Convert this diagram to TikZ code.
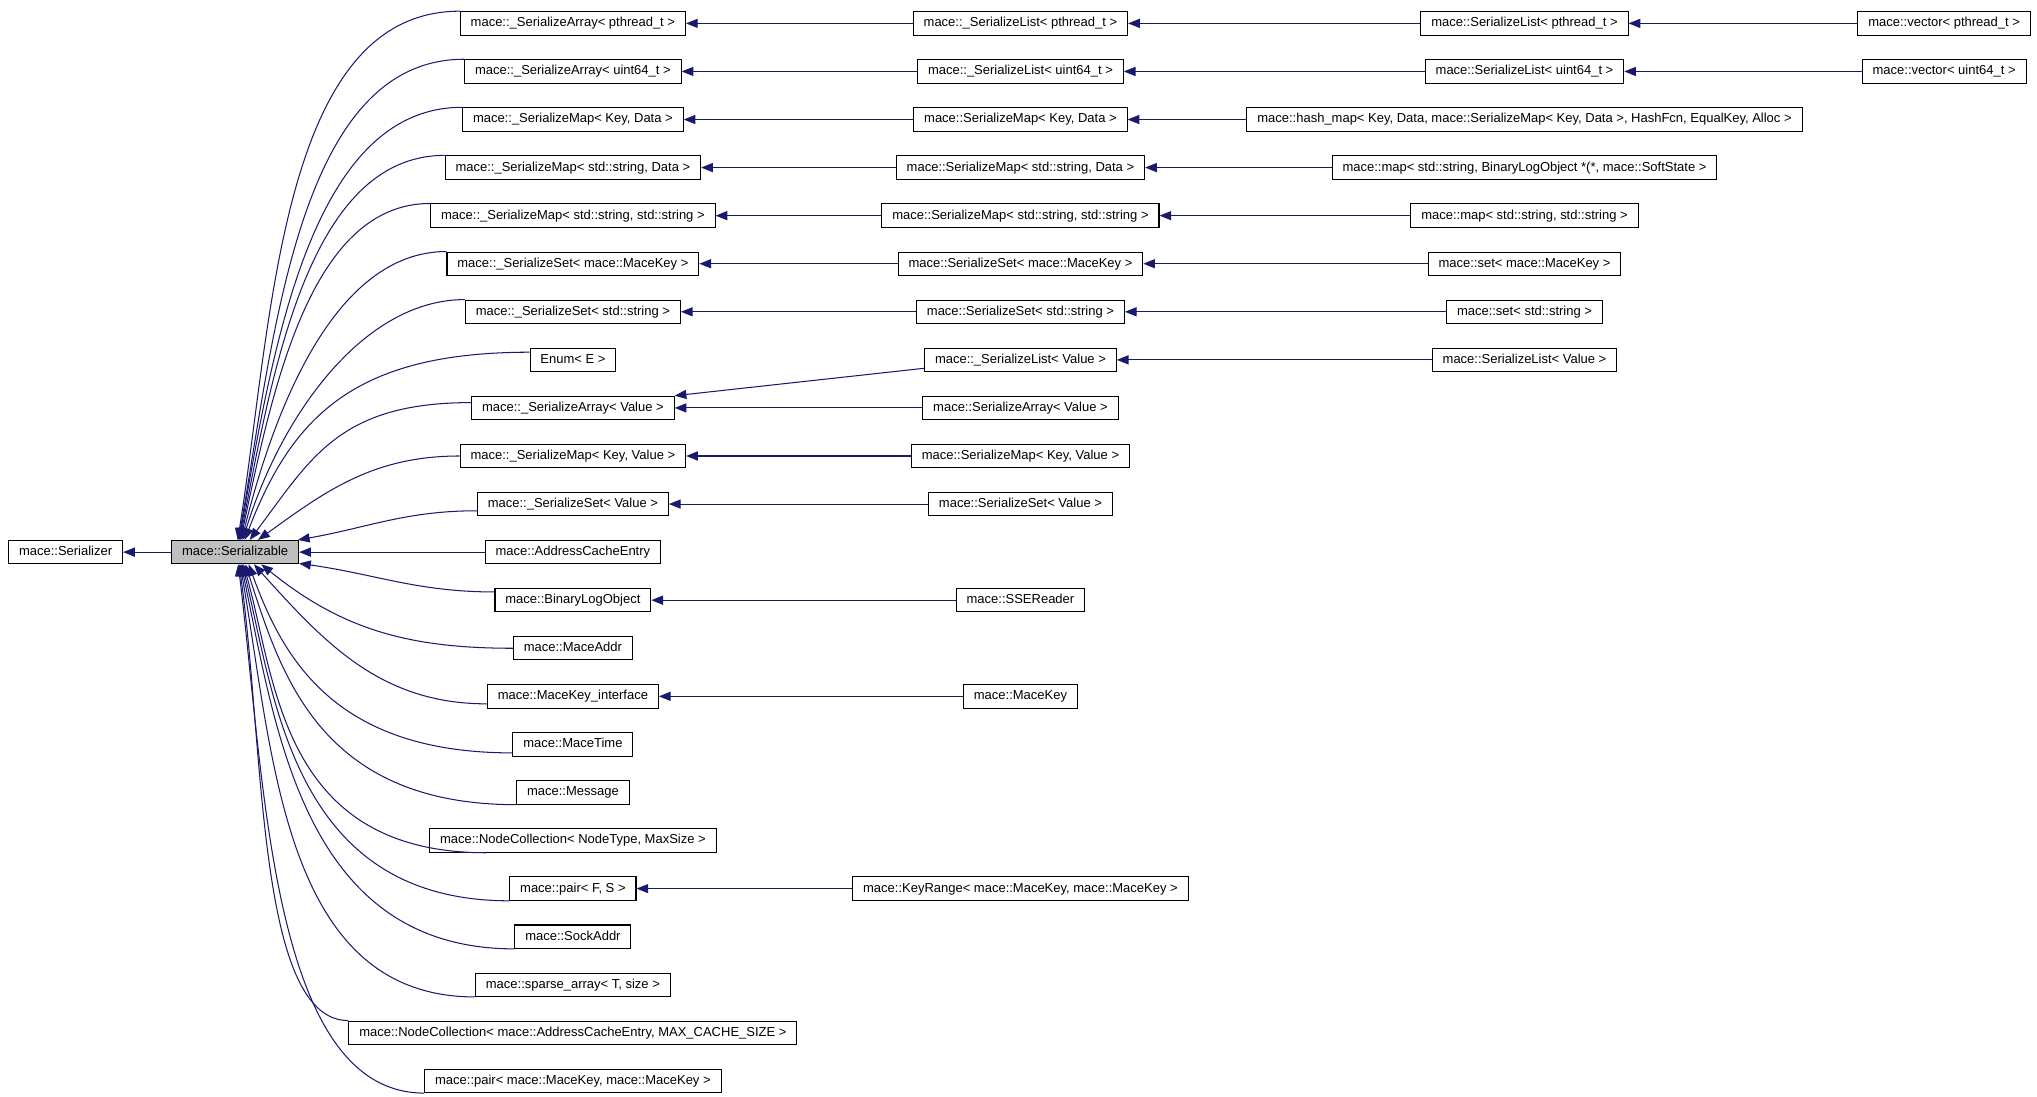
\documentclass[tikz,border=0pt]{standalone}
\usepackage{fontspec}
\setmainfont{Liberation Sans}
\usetikzlibrary{arrows.meta}
\definecolor{doxyblue}{RGB}{25,25,112}
\definecolor{doxygray}{RGB}{191,191,191}

\begin{document}
\begin{tikzpicture}[x=1pt, y=1pt,
    every node/.style={font=\fontsize{10}{12}\selectfont},
    cls/.style={rectangle, draw=black, fill=white, line width=0.8pt, inner xsep=8pt, inner ysep=0pt,
      minimum height=18pt, text height=7.5pt, text depth=2.2pt},
    focus/.style={cls, fill=doxygray},
    inh/.style={draw=doxyblue, line width=0.8pt, -{Triangle[length=9pt,width=7pt]}}]
        \useasboundingbox[fill=white] (0,0) rectangle (1568,-844);
        % Root classes
        \node[cls] (szr) at (50.5,-425) {mace::Serializer};
        \node[focus] (ser) at (181,-425) {mace::Serializable};
        % First column
        \node[cls] (arrPt) at (441,-18) {mace::\_SerializeArray< pthread\_t >};
        \node[cls] (arrU) at (441,-55) {mace::\_SerializeArray< uint64\_t >};
        \node[cls] (mapKD) at (441,-92) {mace::\_SerializeMap< Key, Data >};
        \node[cls] (mapSD) at (441,-129) {mace::\_SerializeMap< std::string, Data >};
        \node[cls] (mapSS) at (441,-166) {mace::\_SerializeMap< std::string, std::string >};
        \node[cls] (setMK) at (441,-203) {mace::\_SerializeSet< mace::MaceKey >};
        \node[cls] (setS) at (441,-240) {mace::\_SerializeSet< std::string >};
        \node[cls] (enumE) at (441,-277) {Enum< E >};
        \node[cls] (arrV) at (441,-314) {mace::\_SerializeArray< Value >};
        \node[cls] (mapKV) at (441,-351) {mace::\_SerializeMap< Key, Value >};
        \node[cls] (setV) at (441,-388) {mace::\_SerializeSet< Value >};
        \node[cls] (ace) at (441,-425) {mace::AddressCacheEntry};
        \node[cls] (blo) at (441,-462) {mace::BinaryLogObject};
        \node[cls] (addr) at (441,-499) {mace::MaceAddr};
        \node[cls] (mki) at (441,-536) {mace::MaceKey\_interface};
        \node[cls] (mtime) at (441,-573) {mace::MaceTime};
        \node[cls] (msg) at (441,-610) {mace::Message};
        \node[cls] (ncNT) at (441,-647) {mace::NodeCollection< NodeType, MaxSize >};
        \node[cls] (pairFS) at (441,-684) {mace::pair< F, S >};
        \node[cls] (sock) at (441,-721) {mace::SockAddr};
        \node[cls] (sparse) at (441,-758) {mace::sparse\_array< T, size >};
        \node[cls] (ncACE) at (441,-795) {mace::NodeCollection< mace::AddressCacheEntry, MAX\_CACHE\_SIZE >};
        \node[cls] (pairMK) at (441,-832) {mace::pair< mace::MaceKey, mace::MaceKey >};
        % Second column
        \node[cls] (lstPt) at (785.5,-18) {mace::\_SerializeList< pthread\_t >};
        \node[cls] (lstU) at (785.5,-55) {mace::\_SerializeList< uint64\_t >};
        \node[cls] (smKD) at (785.5,-92) {mace::SerializeMap< Key, Data >};
        \node[cls] (smSD) at (785.5,-129) {mace::SerializeMap< std::string, Data >};
        \node[cls] (smSS) at (785.5,-166) {mace::SerializeMap< std::string, std::string >};
        \node[cls] (ssMK) at (785.5,-203) {mace::SerializeSet< mace::MaceKey >};
        \node[cls] (ssS) at (785.5,-240) {mace::SerializeSet< std::string >};
        \node[cls] (lstV) at (785.5,-277) {mace::\_SerializeList< Value >};
        \node[cls] (saV) at (785.5,-314) {mace::SerializeArray< Value >};
        \node[cls] (smKV) at (785.5,-351) {mace::SerializeMap< Key, Value >};
        \node[cls] (ssV) at (785.5,-388) {mace::SerializeSet< Value >};
        \node[cls] (sse) at (785.5,-462) {mace::SSEReader};
        \node[cls] (mk) at (785.5,-536) {mace::MaceKey};
        \node[cls] (krange) at (785.5,-684) {mace::KeyRange< mace::MaceKey, mace::MaceKey >};
        % Third column
        \node[cls] (slPt) at (1173.5,-18) {mace::SerializeList< pthread\_t >};
        \node[cls] (slU) at (1173.5,-55) {mace::SerializeList< uint64\_t >};
        \node[cls] (hmap) at (1173.5,-92) {mace::hash\_map< Key, Data, mace::SerializeMap< Key, Data >, HashFcn, EqualKey, Alloc >};
        \node[cls] (mapBL) at (1173.5,-129) {mace::map< std::string, BinaryLogObject *(*, mace::SoftState >};
        \node[cls] (mapStr) at (1173.5,-166) {mace::map< std::string, std::string >};
        \node[cls] (stdMK) at (1173.5,-203) {mace::set< mace::MaceKey >};
        \node[cls] (stdS) at (1173.5,-240) {mace::set< std::string >};
        \node[cls] (slV) at (1173.5,-277) {mace::SerializeList< Value >};
        % Fourth column
        \node[cls] (vecPt) at (1496.5,-18) {mace::vector< pthread\_t >};
        \node[cls] (vecU) at (1496.5,-55) {mace::vector< uint64\_t >};
        % Root link
        \draw[inh] (ser) -- (szr);
        % Links into Serializable, upper half
        \draw[inh] (arrPt.north west) to[out=180,in=81,out looseness=0.8] (ser.78);
        \draw[inh] (arrU.north west) to[out=180,in=80,out looseness=0.8] (ser.75);
        \draw[inh] (mapKD.north west) to[out=180,in=80,out looseness=0.8] (ser.72);
        \draw[inh] (mapSD.north west) to[out=180,in=79,out looseness=0.8] (ser.69);
        \draw[inh] (mapSS.north west) to[out=180,in=78,out looseness=0.8] (ser.66);
        \draw[inh] (setMK.north west) to[out=180,in=76,out looseness=0.8] (ser.62);
        \draw[inh] (setS.north west) to[out=180,in=73,out looseness=0.8] (ser.58);
        \draw[inh] (enumE.170) to[out=180,in=69,out looseness=1.3] (ser.52);
        \draw[inh] (arrV.177) to[out=180,in=53,out looseness=1.3] (ser.40);
        \draw[inh] (mapKV.west) to[out=180,in=36] (ser.28);
        \draw[inh] (setV.184) to[out=180,in=10] (ser.11);
        \draw[inh] (ace) -- (ser);
        % Links into Serializable, lower half
        \draw[inh] (blo.174) to[out=180,in=-8] (ser.-10);
        \draw[inh] (addr.west) to[out=180,in=-39] (ser.-25);
        \draw[inh] (mki.185) to[out=180,in=-48] (ser.-33);
        \draw[inh] (mtime.188) to[out=180,in=-70,out looseness=1.4,in looseness=0.8] (ser.-42);
        \draw[inh] (msg.south west) to[out=180,in=-72,out looseness=1.4,in looseness=0.8] (ser.-50);
        \draw[inh] (ncNT.188) to[out=180,in=-74,out looseness=1.4,in looseness=0.8] (ser.-56);
        \draw[inh] (pairFS.south west) to[out=180,in=-76,out looseness=1.3,in looseness=0.8] (ser.-60);
        \draw[inh] (sock.south west) to[out=180,in=-78,out looseness=1.15,in looseness=0.9] (ser.-64);
        \draw[inh] (sparse.south west) to[out=180,in=-80] (ser.-68);
        \draw[inh] (ncACE.north west) to[out=180,in=-82,out looseness=0.5] (ser.-72);
        \draw[inh] (pairMK.south west) to[out=180,in=-83,out looseness=0.7] (ser.-76);
        % Deeper links
        \draw[inh] (lstPt) -- (arrPt);
        \draw[inh] (slPt) -- (lstPt);
        \draw[inh] (vecPt) -- (slPt);
        \draw[inh] (lstU) -- (arrU);
        \draw[inh] (slU) -- (lstU);
        \draw[inh] (vecU) -- (slU);
        \draw[inh] (smKD) -- (mapKD);
        \draw[inh] (hmap) -- (smKD);
        \draw[inh] (smSD) -- (mapSD);
        \draw[inh] (mapBL) -- (smSD);
        \draw[inh] (smSS) -- (mapSS);
        \draw[inh] (mapStr) -- (smSS);
        \draw[inh] (ssMK) -- (setMK);
        \draw[inh] (stdMK) -- (ssMK);
        \draw[inh] (ssS) -- (setS);
        \draw[inh] (stdS) -- (ssS);
        \draw[inh] (slV) -- (lstV);
        \draw[inh] (lstV.185) -- (arrV.north east);
        \draw[inh] (saV) -- (arrV);
        \draw[inh] (smKV) -- (mapKV);
        \draw[inh] (ssV) -- (setV);
        \draw[inh] (sse) -- (blo);
        \draw[inh] (mk) -- (mki);
        \draw[inh] (krange) -- (pairFS);
      \end{tikzpicture}
\end{document}
